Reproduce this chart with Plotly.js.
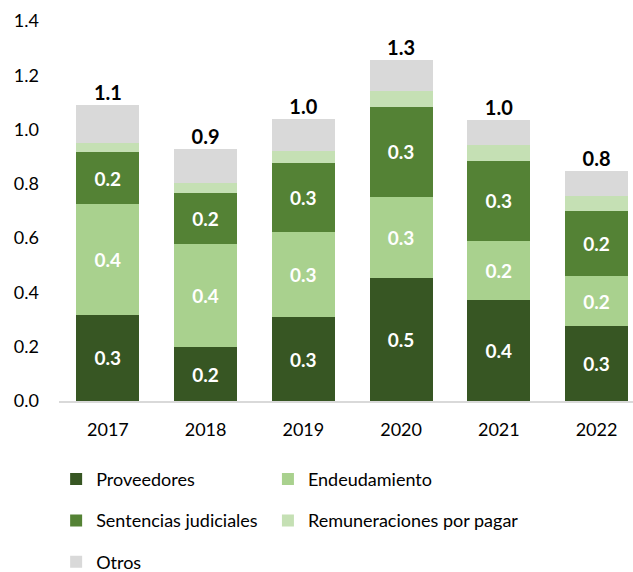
<!DOCTYPE html>
<html><head><meta charset="utf-8">
<script src="https://cdn.plot.ly/plotly-3.0.1.min.js"></script>
<style>html,body{margin:0;padding:0;background:#fff}</style>
</head><body>
<div id="chart" style="width:633px;height:572px"></div>
<script>
const years = ['2017','2018','2019','2020','2021','2022'];
const proveedores = [0.318, 0.198, 0.308, 0.452, 0.373, 0.276];
const endeudamiento = [0.409, 0.382, 0.314, 0.301, 0.218, 0.184];
const sentencias = [0.189, 0.185, 0.254, 0.329, 0.294, 0.240];
const remuneraciones = [0.035, 0.038, 0.045, 0.059, 0.057, 0.054];
const otros = [0.139, 0.126, 0.118, 0.114, 0.093, 0.092];
const seriesNames = ['Proveedores','Endeudamiento','Sentencias judiciales','Remuneraciones por pagar','Otros'];
const colors = ['#375623','#A9D18E','#548235','#C5E0B4','#D9D9D9'];
const yTicks = [0,0.2,0.4,0.6,0.8,1.0,1.2,1.4];

const FONT = 'Lato, "Open Sans", sans-serif';
const vals = [proveedores, endeudamiento, sentencias, remuneraciones, otros];
const legendIds = ['legend','legend2','legend3','legend4','legend5'];
const traces = vals.map((v,i)=>({
  type:'bar', x:years, y:v, name:seriesNames[i],
  marker:{color:colors[i]},
  texttemplate: i<3 ? '%{y:.1f}' : '',
  textposition: i<3 ? 'inside' : 'none',
  insidetextanchor:'middle', textangle:0, constraintext:'none',
  textfont:{family:FONT, size:19, color:'#ffffff', weight:'bold'},
  legend: legendIds[i],
  hoverinfo:'skip'
}));
const totals = years.map((_,j)=>vals.reduce((s,v)=>s+v[j],0));
traces.push({
  type:'scatter', mode:'text', x:years, y:totals,
  text: totals.map(t=>t.toFixed(1)), textposition:'top center',
  textfont:{family:FONT, size:20, color:'#000000', weight:'bold'},
  showlegend:false, hoverinfo:'skip', cliponaxis:false
});

const legBase = {orientation:'h', xanchor:'left', yanchor:'middle',
  font:{family:FONT, size:18, color:'#000'}, bgcolor:'rgba(0,0,0,0)', borderwidth:0};
const colX = [-0.005, 0.364];
const rowY = [-0.206, -0.315, -0.424];
const layout = {
  width:633, height:572,
  margin:{l:58.6, r:0, t:20.5, b:170.5, autoexpand:false},
  barmode:'stack', bargap:0.356,
  showlegend:true,
  paper_bgcolor:'#fff', plot_bgcolor:'#fff',
  font:{family:FONT, size:17, color:'#000'},
  xaxis:{type:'category', range:[-0.5,5.373], showgrid:false, zeroline:false, showline:true, linecolor:'#D9D9D9', linewidth:2,
    ticks:'', ticklabelstandoff:11, tickfont:{family:FONT, size:18, color:'#000'}},
  yaxis:{range:[0,1.4], tickvals:yTicks, ticktext:yTicks.map(t=>t.toFixed(1)), showgrid:false, zeroline:false, showline:false,
    ticks:'', ticklabelstandoff:19, tickfont:{family:FONT, size:18, color:'#000'}}
};
legendIds.forEach((id,i)=>{
  layout[id] = Object.assign({}, legBase, {x:colX[i%2], y:rowY[Math.floor(i/2)]});
});
Plotly.newPlot('chart', traces, layout, {displayModeBar:false, staticPlot:true});
</script>
</body></html>
